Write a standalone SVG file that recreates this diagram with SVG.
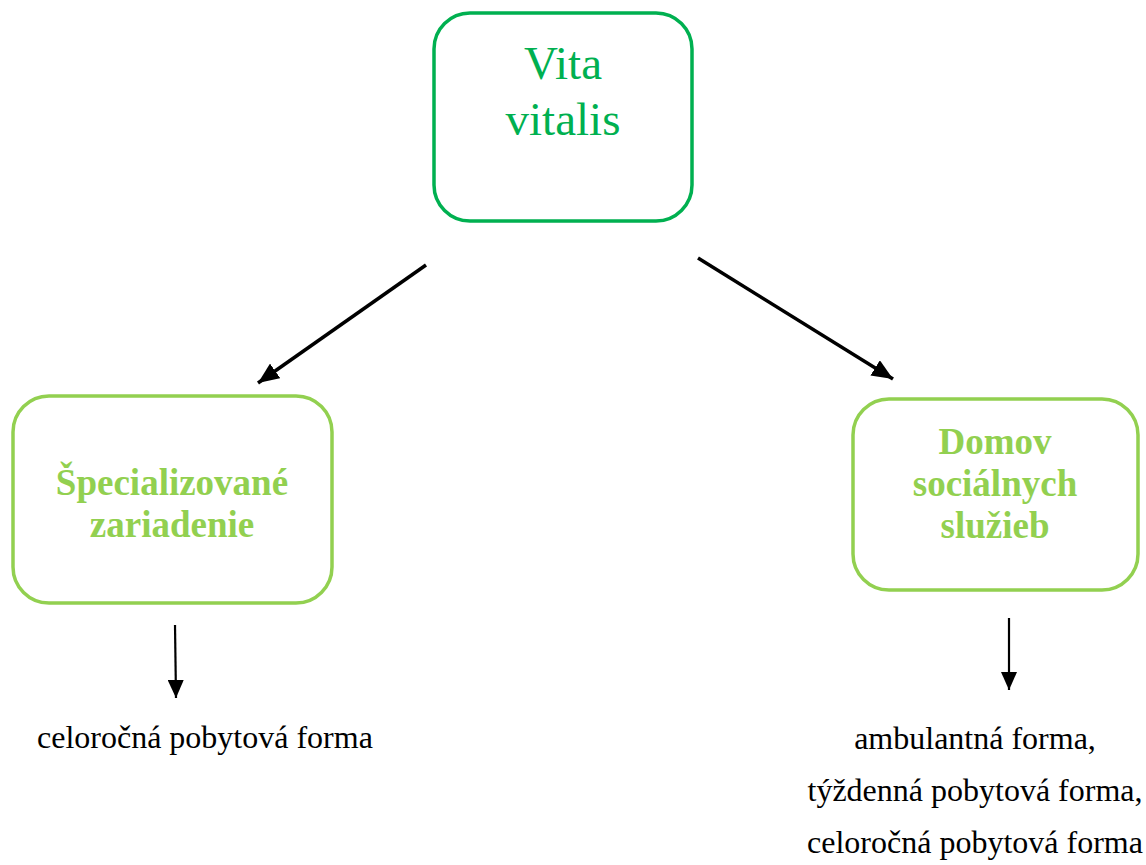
<svg xmlns="http://www.w3.org/2000/svg" width="1146" height="865" viewBox="0 0 1146 865">
<defs>
<style>
.box{fill:#fff;stroke-width:3.5}
.top{stroke:#00B050}
.sub{stroke:#92D050}
.ttop{font-family:"Liberation Serif",serif;font-size:47px;fill:#00B050;text-anchor:middle}
.tsub{font-family:"Liberation Serif",serif;font-size:37px;font-weight:bold;fill:#92D050;text-anchor:middle}
.lbl{font-family:"Liberation Serif",serif;font-size:32px;fill:#000}
.con{stroke:#000;fill:none}
</style>
<marker id="ah" viewBox="0 0 10 10" refX="10" refY="5" markerWidth="21" markerHeight="18" markerUnits="userSpaceOnUse" orient="auto" preserveAspectRatio="none">
<path d="M0,0 L10,5 L0,10 z" fill="#000"/>
</marker>
<marker id="ahv" viewBox="0 0 10 10" refX="10" refY="5" markerWidth="18" markerHeight="16" markerUnits="userSpaceOnUse" orient="auto" preserveAspectRatio="none">
<path d="M0,0 L10,5 L0,10 z" fill="#000"/>
</marker>
</defs>
<rect width="1146" height="865" fill="#fff"/>
<g id="node-vita">
<rect class="box top" x="434" y="13" width="258" height="208" rx="36"/>
<text class="ttop" x="563" y="79">Vita</text>
<text class="ttop" x="563" y="135">vitalis</text>
</g>
<g id="node-specializovane">
<rect class="box sub" x="13" y="396" width="319" height="207" rx="36"/>
<text class="tsub" x="172" y="495">Špecializované</text>
<text class="tsub" x="172" y="537">zariadenie</text>
</g>
<g id="node-domov">
<rect class="box sub" x="853" y="399" width="285" height="191" rx="36"/>
<text class="tsub" x="995" y="454">Domov</text>
<text class="tsub" x="995" y="496">sociálnych</text>
<text class="tsub" x="995" y="538">služieb</text>
</g>
<g id="label-left">
<text class="lbl" x="37" y="748">celoročná pobytová forma</text>
</g>
<g id="label-right">
<text class="lbl" x="975" y="749" text-anchor="middle">ambulantná forma,</text>
<text class="lbl" x="975" y="801" text-anchor="middle">týždenná pobytová forma,</text>
<text class="lbl" x="975" y="853" text-anchor="middle">celoročná pobytová forma</text>
</g>
<g id="connectors">
<line class="con" x1="426" y1="265" x2="258" y2="383" stroke-width="3.5" marker-end="url(#ah)"/>
<line class="con" x1="698" y1="258" x2="893" y2="379" stroke-width="3.5" marker-end="url(#ah)"/>
<line class="con" x1="175" y1="625" x2="176" y2="698" stroke-width="2.2" marker-end="url(#ahv)"/>
<line class="con" x1="1009" y1="618" x2="1009" y2="690" stroke-width="2.2" marker-end="url(#ahv)"/>
</g>
</svg>
